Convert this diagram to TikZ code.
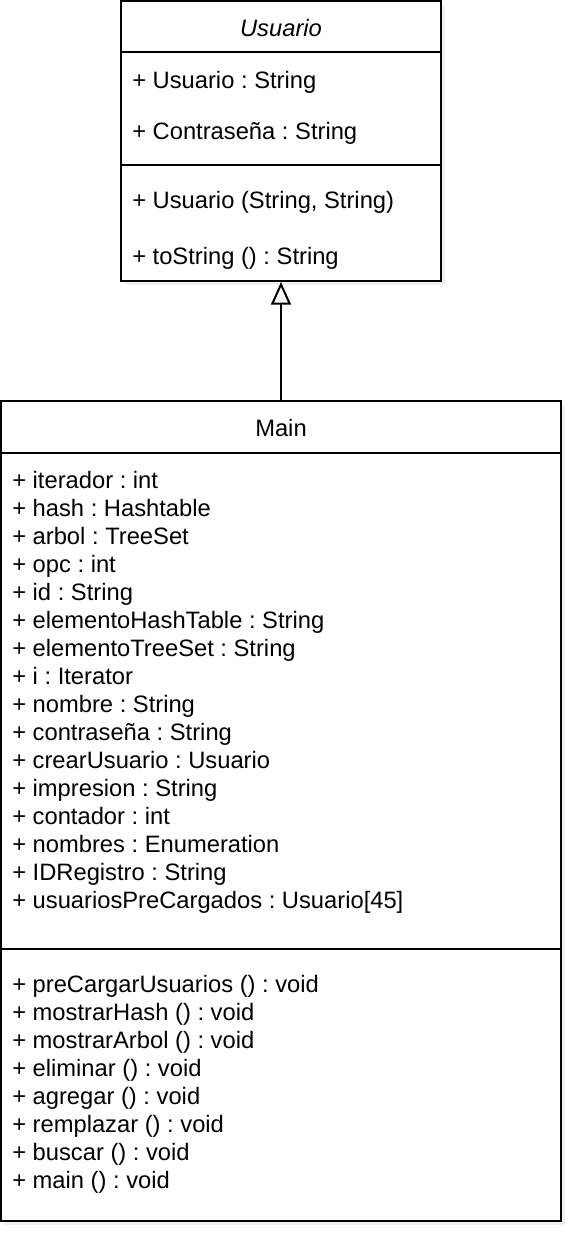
\documentclass[tikz,border=0pt]{standalone}
\usepackage{fontspec}
\setmainfont{Liberation Sans}
\usetikzlibrary{arrows.meta,shadows}
\frenchspacing
\begin{document}
\begin{tikzpicture}[x=0.75pt,y=-0.75pt,
  classbox/.style={draw=black,line width=1.5pt,fill=white,rectangle,inner sep=0pt,
    drop shadow={opacity=0.12,shadow xshift=3pt,shadow yshift=-3pt}},
  divider/.style={draw=black,line width=1.5pt},
  member/.style={anchor=mid west,inner sep=0pt,yshift=-3.5pt,font=\fontsize{17.8}{20}\selectfont},
  title/.style={anchor=mid,inner sep=0pt,yshift=-3.5pt,font=\fontsize{17.8}{20}\selectfont},
  inherit/.style={draw=black,line width=1.5pt,-{Triangle[open,width=15pt,length=17pt,line width=1.5pt]}}
]
\useasboundingbox (0,0) rectangle (584,1250);
% Usuario class
\node[classbox,minimum width=320*0.75pt,minimum height=280*0.75pt] (usuario) at (281,141) {};
\coordinate (u1l) at (121,52); \coordinate (u1r) at (441,52);
\coordinate (u2l) at (121,165); \coordinate (u2r) at (441,165);
\draw[divider] (u1l) -- (u1r);
\draw[divider] (u2l) -- (u2r);
\node[title,font=\fontsize{17.8}{20}\selectfont\itshape] (utitle) at (281,28) {Usuario};
\node[member] (ua1) at (132,80) {+ Usuario : String};
\node[member] (ua2) at (132,131) {+ Contraseña : String};
\node[member] (um1) at (132,200) {+ Usuario (String, String)};
\node[member] (um2) at (132,256) {+ toString () : String};
% Main class
\node[classbox,minimum width=560*0.75pt,minimum height=820*0.75pt] (main) at (281,811) {};
\coordinate (m1l) at (1,453); \coordinate (m1r) at (561,453);
\coordinate (m2l) at (1,949); \coordinate (m2r) at (561,949);
\draw[divider] (m1l) -- (m1r);
\draw[divider] (m2l) -- (m2r);
\node[title] (mtitle) at (281,428) {Main};
\foreach \t [count=\i from 0] in {%
  {+ iterador : int},{+ hash : Hashtable},{+ arbol : TreeSet},{+ opc : int},{+ id : String},%
  {+ elementoHashTable : String},{+ elementoTreeSet : String},{+ i : Iterator},{+ nombre : String},%
  {+ contraseña : String},{+ crearUsuario : Usuario},{+ impresion : String},{+ contador : int},%
  {+ nombres : Enumeration},{+ IDRegistro : String},{+ usuariosPreCargados : Usuario[45]}}
  \node[member] (ma\i) at (12,480+28*\i) {\t};
\foreach \t [count=\i from 0] in {%
  {+ preCargarUsuarios () : void},{+ mostrarHash () : void},{+ mostrarArbol () : void},%
  {+ eliminar () : void},{+ agregar () : void},{+ remplazar () : void},{+ buscar () : void},%
  {+ main () : void}}
  \node[member] (mm\i) at (12,984+28*\i) {\t};
% inheritance
\draw[inherit] (main.north) -- (usuario.south);
\end{tikzpicture}
\end{document}
